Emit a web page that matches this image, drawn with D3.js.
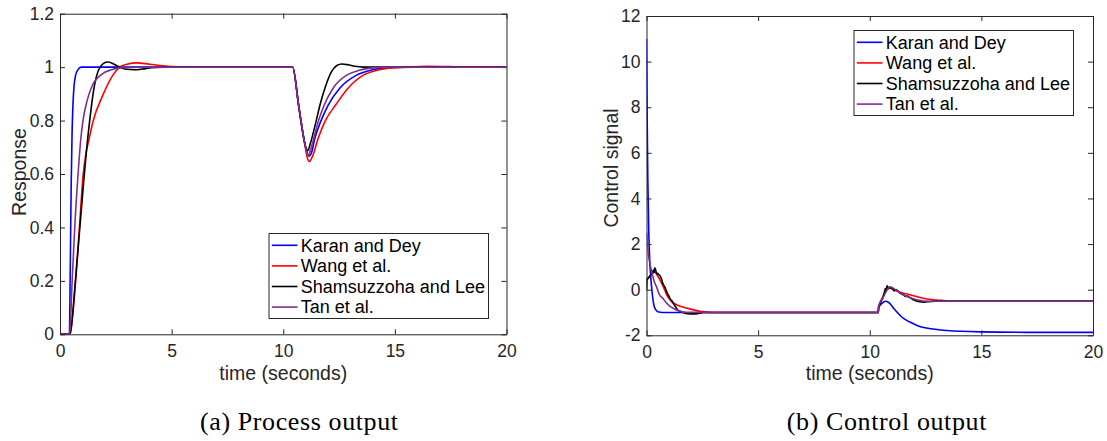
<!DOCTYPE html>
<html>
<head>
<meta charset="utf-8">
<script src="https://cdn.jsdelivr.net/npm/d3@7"></script>
<style>
  body { margin: 0; background: #fff; }
  svg text { font-family: "Liberation Sans", Arial, sans-serif; }
</style>
</head>
<body>
<svg id="chart" width="1107" height="441"></svg>
<script>
// legend entries, same order in both panels
var names = ['Karan and Dey', 'Wang et al.', 'Shamsuzzoha and Lee', 'Tan et al.'];
var colors = ['#0000ff', '#ff0000', '#000000', '#7e2f8e'];

var xTicks = [0, 5, 10, 15, 20];
var respTicks = [0, 0.2, 0.4, 0.6, 0.8, 1, 1.2];
var ctrlTicks = [-2, 0, 2, 4, 6, 8, 10, 12];

// (a) process output : [time, response]
var karanResp = [[0,0],[0.42,0],[0.46,0.25],[0.5,0.55],[0.54,0.75],[0.58,0.86],[0.63,0.93],[0.7,0.97],[0.8,0.99],[0.95,1],
  [10.42,1],[10.7,0.85],[10.95,0.72],[11.08,0.676],[11.15,0.666],[11.25,0.676],[11.42,0.735],[11.68,0.797],[12.02,0.859],
  [12.54,0.922],[13.29,0.97],[14.0,0.99],[14.8,0.999],[16,1],[20,1]];
var wangResp = [[0,0],[0.45,0],[0.6,0.1],[0.87,0.4],[1.04,0.6],[1.15,0.67],[1.3,0.73],[1.49,0.8],[1.93,0.897],[2.37,0.97],
  [2.67,1],[3.0,1.011],[3.45,1.016],[4.0,1.011],[4.84,1.003],[5.6,1],
  [10.42,1],[10.7,0.85],[10.95,0.72],[11.08,0.66],[11.17,0.647],[11.28,0.66],[11.57,0.735],[11.87,0.797],[12.36,0.86],
  [12.91,0.922],[13.59,0.97],[14.2,0.988],[14.63,0.995],[15.5,1],[16.5,1.003],[18,1.001],[20,1]];
var shamResp = [[0,0],[0.45,0],[0.55,0.06],[0.66,0.17],[0.84,0.35],[1.03,0.54],[1.2,0.7],[1.33,0.8],[1.52,0.92],[1.73,0.99],
  [1.95,1.014],[2.15,1.019],[2.4,1.012],[2.6,1.003],[2.9,0.993],[3.35,0.99],[3.7,0.993],[4.1,0.998],[4.6,1],
  [10.42,1],[10.7,0.85],[10.95,0.72],[11.04,0.693],[11.1,0.687],[11.2,0.71],[11.47,0.797],[11.65,0.86],[11.87,0.922],
  [12.17,0.984],[12.4,1.006],[12.62,1.012],[12.9,1.009],[13.2,1.003],[13.6,1],[20,1]];
var tanResp = [[0,0],[0.43,0],[0.54,0.19],[0.66,0.4],[0.81,0.6],[0.93,0.73],[1.03,0.8],[1.2,0.87],[1.4,0.922],[1.85,0.972],
  [2.3,0.99],[2.8,0.998],[3.5,1],
  [10.42,1],[10.7,0.85],[10.95,0.72],[11.06,0.678],[11.13,0.67],[11.22,0.69],[11.57,0.797],[11.84,0.859],[12.24,0.922],
  [12.84,0.97],[13.4,0.988],[14.3,0.999],[15,1],[20,1]];

// (b) control output : [time, control signal]
var karanCtrl = [[0,11],[0.03,7.5],[0.06,4.8],[0.1,2.6],[0.15,1.2],[0.2,0.44],[0.25,-0.1],[0.3,-0.5],[0.35,-0.75],[0.45,-0.92],
  [0.55,-0.98],[0.7,-1],[10.38,-1],[10.4,-0.8],[10.55,-0.6],[10.7,-0.51],[10.85,-0.56],[11.1,-0.85],[11.5,-1.25],[11.8,-1.42],
  [12.2,-1.6],[12.55,-1.68],[13.45,-1.79],[14.95,-1.85],[17,-1.87],[20,-1.87]];
var wangCtrl = [[0,0.47],[0.1,0.55],[0.2,0.65],[0.3,0.74],[0.38,0.78],[0.5,0.6],[0.68,0.29],[0.81,0],[0.9,-0.22],[1.1,-0.5],
  [1.3,-0.64],[1.85,-0.82],[2.4,-0.95],[2.9,-1],[10.38,-1],[10.4,-0.75],[10.6,-0.3],[10.8,0.03],[10.9,0.07],[11.1,0],
  [11.4,-0.12],[11.8,-0.22],[12.55,-0.41],[13.0,-0.45],[13.6,-0.5],[14.5,-0.51],[20,-0.51]];
var shamCtrl = [[0,0],[0.02,0.45],[0.08,0.5],[0.15,0.6],[0.25,0.7],[0.3,0.85],[0.33,0.75],[0.37,0.95],[0.4,0.9],[0.45,0.7],
  [0.5,0.72],[0.55,0.66],[0.6,0.62],[0.68,0.45],[0.72,0.3],[0.77,0.2],[0.83,0.1],[0.87,0],[0.95,-0.2],[1.02,-0.3],[1.05,-0.4],
  [1.15,-0.5],[1.25,-0.68],[1.3,-0.75],[1.4,-0.9],[1.55,-0.97],[1.75,-1.04],[1.95,-1.06],[2.2,-1.06],[2.4,-1.03],[2.55,-1],
  [10.38,-1],[10.4,-0.75],[10.5,-0.55],[10.6,-0.3],[10.65,-0.15],[10.7,0.05],[10.73,-0.05],[10.78,0.17],[10.85,0.05],
  [10.9,0.1],[11.0,0.05],[11.1,-0.05],[11.2,0],[11.35,-0.15],[11.5,-0.22],[11.6,-0.3],[11.7,-0.28],[11.95,-0.44],
  [12.1,-0.5],[12.4,-0.55],[12.6,-0.53],[12.95,-0.5],[20,-0.5]];
var tanCtrl = [[0,2.5],[0.04,2.1],[0.08,1.6],[0.15,1.15],[0.23,0.8],[0.35,0.35],[0.46,0.1],[0.57,-0.2],[0.75,-0.4],[0.87,-0.55],
  [1.05,-0.73],[1.17,-0.8],[1.5,-0.95],[1.8,-1],[10.38,-1],[10.4,-0.72],[10.6,-0.35],[10.75,-0.05],[10.9,0.13],[11.05,0.07],
  [11.3,-0.1],[11.5,-0.22],[12.1,-0.44],[12.7,-0.51],[13.5,-0.5],[20,-0.5]];

var svg = d3.select('#chart');
var axisColor = '#262626';

function drawPanel(cfg) {
  var w = cfg.right - cfg.left, h = cfg.bottom - cfg.top;
  var x = d3.scaleLinear().domain([0, 20]).range([0, w]);
  var y = d3.scaleLinear().domain(cfg.yDomain).range([h, 0]);
  var g = svg.append('g').attr('transform', 'translate(' + cfg.left + ',' + cfg.top + ')');

  g.append('clipPath').attr('id', cfg.id + '-clip')
    .append('rect').attr('width', w).attr('height', h);

  // ticks point inward on all four sides (matlab box style)
  var fmt = function(d) { return String(d); };
  g.append('g').attr('transform', 'translate(0,' + h + ')')
    .call(d3.axisBottom(x).tickValues(xTicks).tickSizeInner(-5).tickSizeOuter(0).tickPadding(10).tickFormat(fmt));
  g.append('g')
    .call(d3.axisLeft(y).tickValues(cfg.yTicks).tickSizeInner(-5).tickSizeOuter(0).tickPadding(6).tickFormat(fmt));
  g.append('g')
    .call(d3.axisTop(x).tickValues(xTicks).tickSizeInner(-5).tickSizeOuter(0).tickFormat(''));
  g.append('g').attr('transform', 'translate(' + w + ',0)')
    .call(d3.axisRight(y).tickValues(cfg.yTicks).tickSizeInner(-5).tickSizeOuter(0).tickFormat(''));
  g.selectAll('.domain, .tick line').attr('stroke', axisColor);
  g.selectAll('.tick text').attr('fill', axisColor).style('font-size', '17.5px')
    .style('font-family', '"Liberation Sans", Arial, sans-serif');

  var line = d3.line().x(function(d) { return x(d[0]); }).y(function(d) { return y(d[1]); });
  var lines = g.append('g').attr('clip-path', 'url(#' + cfg.id + '-clip)');
  cfg.series.forEach(function(s, i) {
    lines.append('path').datum(s)
      .attr('d', line.curve(cfg.curves[i])(s))
      .attr('fill', 'none').attr('stroke', colors[i])
      .attr('stroke-width', 1.6).attr('stroke-linejoin', 'round');
  });

  // axis titles
  svg.append('text').attr('x', (cfg.left + cfg.right) / 2).attr('y', 380)
    .attr('text-anchor', 'middle').attr('fill', axisColor).style('font-size', '19.5px').text('time (seconds)');
  svg.append('text').attr('transform', 'translate(' + cfg.ylabX + ',' + cfg.ylabY + ') rotate(-90)')
    .attr('text-anchor', 'middle').attr('fill', axisColor).style('font-size', '19.5px').text(cfg.ylabel);

  // legend
  var lg = svg.append('g').attr('transform', 'translate(' + cfg.legX + ',' + cfg.legY + ')');
  lg.append('rect').attr('x', 0.5).attr('y', 0.5).attr('width', 219.5).attr('height', 85)
    .attr('fill', '#fff').attr('stroke', axisColor).attr('stroke-width', 1);
  names.forEach(function(n, i) {
    var ry = 12.3 + i * 20.6;
    lg.append('line').attr('x1', 3.3).attr('x2', 29).attr('y1', ry).attr('y2', ry)
      .attr('stroke', colors[i]).attr('stroke-width', 1.6);
    lg.append('text').attr('x', 32.3).attr('y', ry).attr('dy', '0.35em')
      .attr('fill', '#000').style('font-size', '18px').text(n);
  });

  // caption under the panel
  svg.append('text').attr('x', cfg.capX).attr('y', 430).attr('text-anchor', 'middle')
    .attr('textLength', cfg.capW).attr('lengthAdjust', 'spacing')
    .style('font-family', '"Liberation Serif", "Times New Roman", serif').style('font-size', '26px')
    .text(cfg.caption);
}

drawPanel({
  id: 'resp', left: 60, right: 506.5, top: 13.7, bottom: 334.3,
  yDomain: [0, 1.2], yTicks: respTicks,
  series: [karanResp, wangResp, shamResp, tanResp],
  curves: [d3.curveMonotoneX, d3.curveMonotoneX, d3.curveMonotoneX, d3.curveMonotoneX],
  ylabel: 'Response', ylabX: 25.7, ylabY: 172,
  legX: 268.5, legY: 233,
  caption: '(a) Process output', capX: 299, capW: 198
});

drawPanel({
  id: 'ctrl', left: 646.5, right: 1093, top: 16, bottom: 335.3,
  yDomain: [-2, 12], yTicks: ctrlTicks,
  series: [karanCtrl, wangCtrl, shamCtrl, tanCtrl],
  curves: [d3.curveMonotoneX, d3.curveMonotoneX, d3.curveLinear, d3.curveMonotoneX],
  ylabel: 'Control signal', ylabX: 617.6, ylabY: 168,
  legX: 853.5, legY: 30,
  caption: '(b) Control output', capX: 886.6, capW: 199.6
});
</script>
</body>
</html>
